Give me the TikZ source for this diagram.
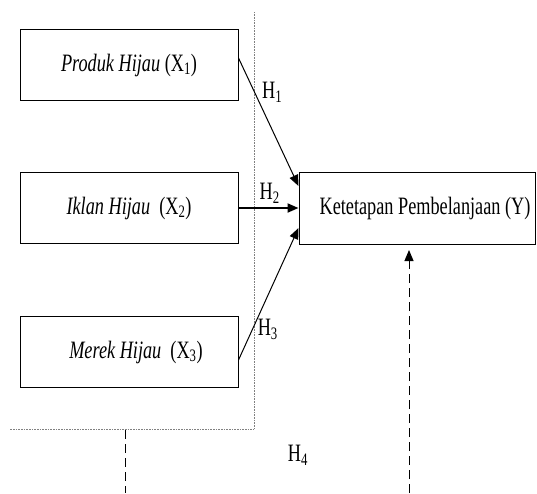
\documentclass[tikz,border=0pt]{standalone}
\usepackage{fontspec}
\setmainfont{Liberation Serif}[FakeStretch=0.73]
\usepackage{tikz}
\usetikzlibrary{positioning,arrows.meta}

\tikzset{
  varbox/.style={draw, line width=1pt, minimum width=218pt, minimum height=71pt, font=\fontsize{25}{27}\selectfont},
  hyp/.style={-{Triangle[length=11pt,width=9pt]}, line width=1pt},
  hlabel/.style={font=\fontsize{25}{27}\selectfont, inner sep=0pt}
}

\begin{document}
\begin{tikzpicture}[x=1pt, y=-1pt]
        \useasboundingbox (0,0) rectangle (537,493);
        % variabel bebas
        \node[varbox] (X1) at (129,65) {\textit{Produk Hijau} (X\textsubscript{1})};
        \node[varbox] (X2) at (129,208) {\textit{Iklan Hijau}\ \ (X\textsubscript{2})};
        \node[varbox] (X3) at (129,352) {\hspace{14pt}\textit{Merek Hijau}\ \ (X\textsubscript{3})};
        % variabel terikat
        \node[varbox, minimum width=236pt, minimum height=72pt] (Y) at (417,208) {\hspace*{16pt}Ketetapan Pembelanjaan (Y)};
        % garis titik-titik
        \draw[gray, densely dotted, line width=0.6pt] (254,12) -- (254,429) -- (10,429);
        % hipotesis
        \draw[hyp] ([yshift=7pt]X1.east) -- node[hlabel, pos=0.27, right=7pt] {H\textsubscript{1}} ([yshift=22pt]Y.west);
        \draw[hyp, line width=2pt] (X2.east) -- node[hlabel, pos=0.52, above=4pt] {H\textsubscript{2}} (Y.west);
        \draw[hyp] ([yshift=-8pt]X3.east) -- node[hlabel, pos=0.23, right=5pt] {H\textsubscript{3}} ([yshift=-20pt]Y.west);
        % H4
        \coordinate (h4a) at (125,430);
        \coordinate (h4b) at (125,493);
        \coordinate (h4c) at (409,493);
        \coordinate (h4d) at (409,250);
        \draw[dashed, line width=1pt, dash pattern=on 9pt off 5pt] (h4a) -- (h4b);
        \draw[hyp, dash pattern=on 9pt off 5pt] (h4c) -- (h4d);
        \node[hlabel] (H4) at (298,455) {H\textsubscript{4}};
  \end{tikzpicture}
\end{document}
